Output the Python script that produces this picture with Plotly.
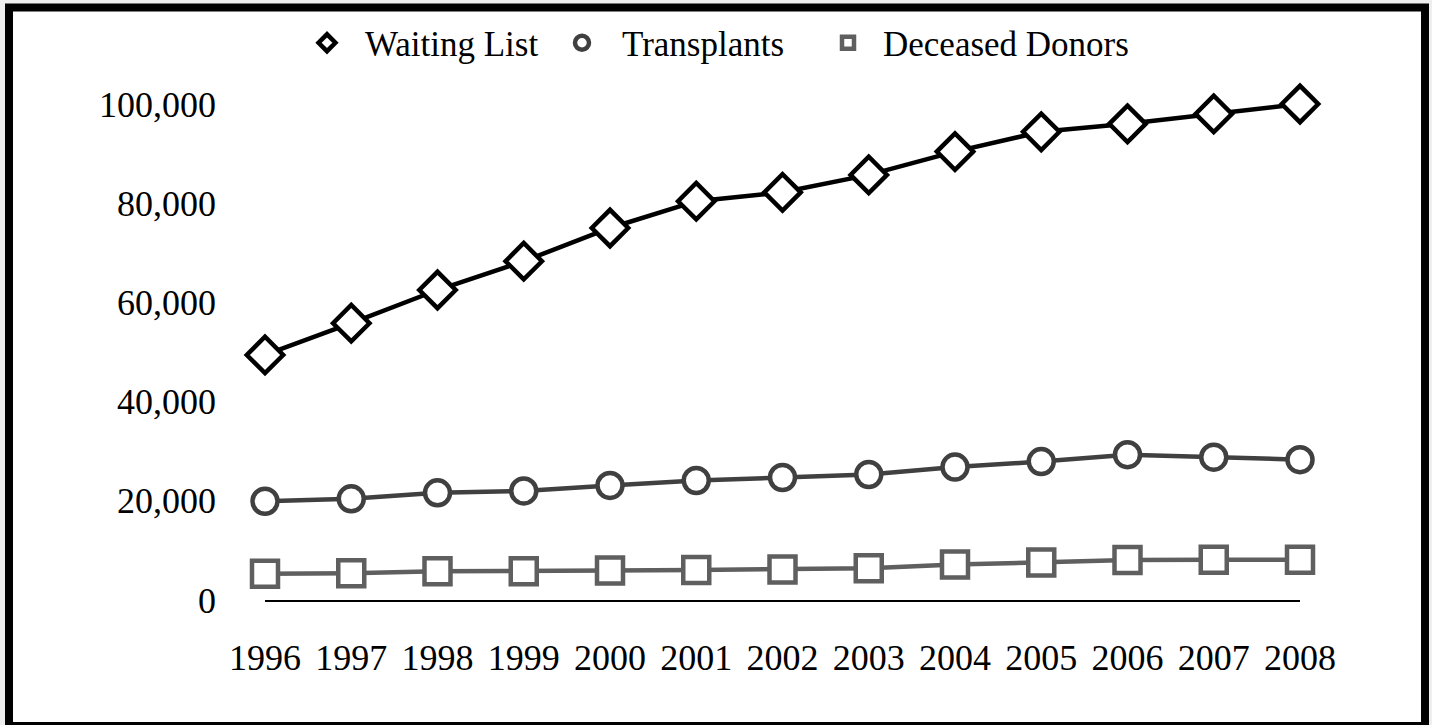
import plotly.graph_objects as go

years = ["1996", "1997", "1998", "1999", "2000", "2001", "2002",
         "2003", "2004", "2005", "2006", "2007", "2008"]
waiting_list = [49400, 55800, 62500, 68300, 75000, 80400, 82200,
                85700, 90400, 94400, 96000, 98000, 100000]
transplants = [19900, 20400, 21600, 22000, 23100, 24100, 24700,
               25300, 26800, 27900, 29300, 28800, 28300]
deceased_donors = [5300, 5400, 5800, 5800, 5950, 6050, 6150,
                   6400, 7150, 7550, 8050, 8100, 8100]

series_names = ["Waiting List", "Transplants", "Deceased Donors"]
series_colors = ["#000000", "#404040", "#5f5f5f"]
series_symbols = ["diamond", "circle", "square"]

FONT = "Liberation Serif"

fig = go.Figure()

data_sets = [deceased_donors, transplants, waiting_list]
order = [2, 1, 0]
sizes = {"diamond": 28, "circle": 25, "square": 26}

for idx, values in zip(order, data_sets):
    fig.add_trace(go.Scatter(
        x=years, y=values, mode="lines+markers",
        name=series_names[idx], showlegend=False,
        line=dict(color=series_colors[idx], width=4.5),
        marker=dict(symbol=series_symbols[idx], size=sizes[series_symbols[idx]],
                    color="white",
                    line=dict(color=series_colors[idx], width=4.5)),
        cliponaxis=False,
    ))

# legend-only entries (marker only, like the reference), one legend each
legend_ids = ["legend", "legend2", "legend3"]
legend_text_start = [367, 624, 885]
legend_itemwidth = [66, 70, 60]
legend_marker_size = [13, 14, 12]
for idx in range(3):
    fig.add_trace(go.Scatter(
        x=[None], y=[None], mode="markers", name=series_names[idx],
        legend=legend_ids[idx],
        marker=dict(symbol=series_symbols[idx], size=legend_marker_size[idx],
                    color="white",
                    line=dict(color=series_colors[idx], width=4.5)),
    ))

legend_common = dict(orientation="h", xref="container", yref="container",
                     xanchor="left", y=1 - 43 / 725, yanchor="middle",
                     font=dict(family=FONT, size=35, color="black"),
                     bgcolor="rgba(0,0,0,0)", borderwidth=0)

legend_layout = {}
for i, lid in enumerate(legend_ids):
    left = legend_text_start[i] - legend_itemwidth[i] - 12
    legend_layout[lid] = dict(legend_common, x=left / 1432,
                              itemwidth=legend_itemwidth[i])

fig.update_layout(
    width=1432, height=725,
    margin=dict(l=265, r=132, t=104, b=125),
    paper_bgcolor="#eeeeee",
    plot_bgcolor="white",
    font=dict(family=FONT, color="black", size=36),
    showlegend=True,
    xaxis=dict(type="category", range=[0, 12], showgrid=False, zeroline=False,
               showline=True, linecolor="black", linewidth=2,
               ticks="", tickfont=dict(family=FONT, size=36),
               ticklabelstandoff=25),
    yaxis=dict(range=[0, 100000], tickvals=[0, 20000, 40000, 60000, 80000, 100000],
               tickformat=",d", showgrid=False, zeroline=False, showline=False,
               ticks="", tickfont=dict(family=FONT, size=36),
               ticklabelstandoff=48),
    shapes=[dict(type="rect", xref="paper", yref="paper",
                 x0=(9 - 265) / 1035, x1=(1425 - 265) / 1035,
                 y0=(600 - 726) / 496, y1=(600 - 7.5) / 496,
                 line=dict(color="black", width=8), fillcolor="white",
                 layer="below")],
    **legend_layout,
)

fig.write_html("out.html",
               config={"displayModeBar": False},
               post_script="document.body.style.margin='0px';"
                           "document.body.style.overflow='hidden';")
